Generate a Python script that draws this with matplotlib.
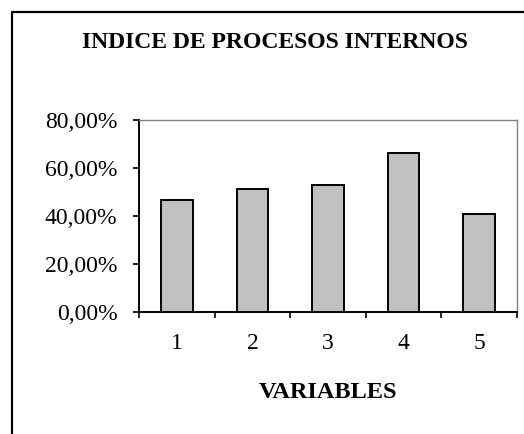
import numpy as np
import matplotlib.pyplot as plt
from matplotlib.lines import Line2D

# data
categories = ["1", "2", "3", "4", "5"]
values = [46.7, 51.2, 53.1, 66.4, 40.8]
y_ticks = [0, 20, 40, 60, 80]
y_tick_labels = ["0,00%", "20,00%", "40,00%", "60,00%", "80,00%"]

plt.rcParams['font.family'] = ['Liberation Serif', 'DejaVu Serif']

fig = plt.figure(figsize=(5.24, 4.34), dpi=100)
ax = fig.add_axes([139 / 524, 1 - 312 / 434, 378 / 524, 192 / 434])

x = np.arange(1, len(categories) + 1)
ax.bar(x, values, width=0.42, color='#C0C0C0', edgecolor='black', linewidth=1.4, zorder=3)

ax.set_xlim(0.5, len(categories) + 0.5)
ax.set_ylim(0, 80)
ax.set_yticks(y_ticks)
ax.set_yticklabels(y_tick_labels)
ax.set_xticks(x)
ax.set_xticklabels(categories)
ax.set_xticks(np.arange(0.5, len(categories) + 1), minor=True)

ax.tick_params(axis='y', direction='out', length=4.5, width=1.2, pad=11, labelsize=17)
ax.tick_params(axis='x', which='major', length=0, pad=15, labelsize=17)
ax.tick_params(axis='x', which='minor', direction='out', length=4.5, width=1.2)

for side in ['top', 'right']:
    ax.spines[side].set_color('#808080')
    ax.spines[side].set_linewidth(1.0)
for side in ['left', 'bottom']:
    ax.spines[side].set_color('black')
    ax.spines[side].set_linewidth(1.4)

fig.text(275 / 524, 1 - 43 / 434, "INDICE DE PROCESOS INTERNOS", ha='center', va='center',
         fontsize=17, fontweight='bold')
fig.text(328 / 524, 1 - 392 / 434, "VARIABLES", ha='center', va='center',
         fontsize=17.5, fontweight='bold')

# outer frame (cut off at right and bottom)
fig.add_artist(Line2D([12 / 524, 12 / 524, 1.0], [0.0, 1 - 12 / 434, 1 - 12 / 434],
                      transform=fig.transFigure, color='black', linewidth=1.6))

fig.savefig('out.png', dpi=100)
